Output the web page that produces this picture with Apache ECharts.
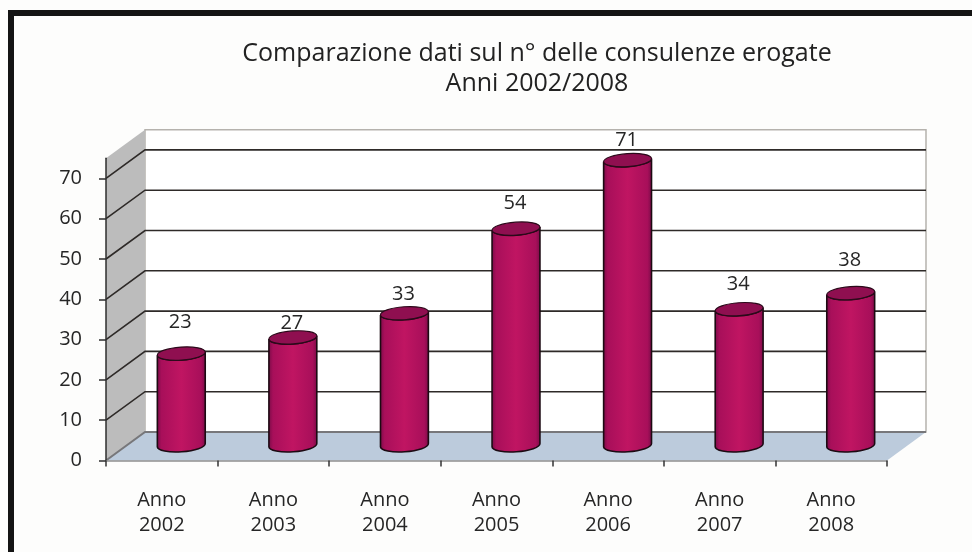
<!DOCTYPE html>
<html>
<head>
<meta charset="utf-8">
<style>html,body{margin:0;padding:0;background:#fdfdfc}#c{width:972px;height:552px}</style>
<script src="https://cdn.jsdelivr.net/npm/echarts@6/dist/echarts.min.js"></script>
</head>
<body>
<div id="c"></div>
<script>
const categories = ['Anno\n2002','Anno\n2003','Anno\n2004','Anno\n2005','Anno\n2006','Anno\n2007','Anno\n2008'];
const values = [23,27,33,54,71,34,38];
const yTicks = [0,10,20,30,40,50,60,70];
const titleText = 'Comparazione dati sul n° delle consulenze erogate\nAnni 2002/2008';

// drawing constants (not data)
const DX = 39, DY = -28.5;           // depth of the 3D box
const RX = 24, RY = 6.5, TILT = 4;   // cylinder ellipse
const labelLift = [31,14,19,25,20,25,33]; // hand placed labels in the original
const FONT = '"Open Sans"';
const TEXT = '#262626';

const chart = echarts.init(document.getElementById('c'), null, {renderer:'canvas'});

function renderWalls(params, api){
  const r = params.coordSys;
  const x0 = r.x, x1 = r.x + r.width, yt = r.y, yb = r.y + r.height;
  return {type:'group', children:[
    {type:'polygon', shape:{points:[[x0+DX,yt+DY],[x1+DX,yt+DY],[x1+DX,yb+DY],[x0+DX,yb+DY]]},
     style:{fill:'#ffffff', stroke:'#b5b2ad', lineWidth:1.5}},
    {type:'polygon', shape:{points:[[x0,yt],[x0+DX,yt+DY],[x0+DX,yb+DY],[x0,yb]]},
     style:{fill:'#bcbcbc', stroke:null}},
    {type:'polygon', shape:{points:[[x0,yb],[x0+DX,yb+DY],[x1+DX,yb+DY],[x1,yb]]},
     style:{fill:'#bccbdc', stroke:null}}
  ]};
}

function renderGrid(params, api){
  const r = params.coordSys;
  const v = api.value(1);
  const y = api.coord([0, v])[1];
  const x0 = r.x, x1 = r.x + r.width;
  const zero = v === 0;
  return {type:'polyline', shape:{points:[[x0,y],[x0+DX,y+DY],[x1+DX,y+DY]]},
    style:{fill:null, stroke: zero ? '#77777a' : '#2e2a28', lineWidth: zero ? 2 : 1.6}};
}

function renderCylinder(params, api){
  const i = api.value(0), v = api.value(1);
  const base = api.coord([i, 0]);
  const top = api.coord([i, v]);
  const cx = base[0] + DX/2;
  const by = base[1] + DY/2 - 1;
  const ty = top[1] + DY/2;
  const c = Math.cos(TILT*Math.PI/180), s = Math.sin(TILT*Math.PI/180);
  const lx = cx - RX*c, rx = cx + RX*c;
  const arc = (sw, x, y) => `A ${RX} ${RY} ${-TILT} 1 ${sw} ${x} ${y}`;
  const body = `M ${lx} ${ty+RX*s} L ${lx} ${by+RX*s} ${arc(0,rx,by-RX*s)} L ${rx} ${ty-RX*s} ${arc(1,lx,ty+RX*s)} Z`;
  const cap  = `M ${lx} ${ty+RX*s} ${arc(1,rx,ty-RX*s)} ${arc(1,lx,ty+RX*s)} Z`;
  return {type:'group', children:[
    {type:'path', shape:{pathData:body}, style:{
      fill:new echarts.graphic.LinearGradient(0,0,1,0,[
        {offset:0,color:'#750b46'},{offset:.1,color:'#a80f5a'},{offset:.5,color:'#c01562'},
        {offset:.9,color:'#a80f5a'},{offset:1,color:'#750b46'}]),
      stroke:'#1c0a12', lineWidth:1.6}},
    {type:'path', shape:{pathData:cap}, style:{fill:'#8f0f50', stroke:'#2a0a1a', lineWidth:1.2}},
    {type:'text', x:cx-1, y:ty-labelLift[params.dataIndex], style:{
      text:String(v), fill:TEXT, font:`20px ${FONT}`, textAlign:'center', textVerticalAlign:'middle'}}
  ]};
}

chart.setOption({
  animation:false,
  backgroundColor:'#fdfdfc',
  title:{
    text:titleText, left:532, top:34, textAlign:'center',
    textStyle:{fontFamily:FONT, fontSize:25, fontWeight:'normal', color:'#222', lineHeight:30}
  },
  grid:{left:106, right:85, top:158.25, bottom:91.5, containLabel:false},
  xAxis:{
    type:'category', data:categories, z:6,
    axisLine:{lineStyle:{color:'#8f8f8f', width:1.5}},
    axisTick:{show:true, length:6, lineStyle:{color:'#333', width:1.5}},
    axisLabel:{fontFamily:FONT, fontSize:20, color:TEXT, lineHeight:25, margin:27, interval:0},
    splitLine:{show:false}
  },
  yAxis:{
    type:'value', min:0, max:75, z:6,
    axisLine:{show:true, lineStyle:{color:'#2e2e2e', width:1.5}},
    axisTick:{show:true, length:7, lineStyle:{color:'#2e2e2e', width:1.5}, customValues:yTicks},
    axisLabel:{fontFamily:FONT, fontSize:20, color:TEXT, margin:24, customValues:yTicks},
    splitLine:{show:false}
  },
  series:[
    {type:'custom', name:'walls', z:1, silent:true, clip:false, renderItem:renderWalls, data:[[0,0]], encode:{x:0,y:1}},
    {type:'custom', name:'grid', z:2, silent:true, clip:false, renderItem:renderGrid,
      data:yTicks.map(t=>[0,t]), encode:{x:0,y:1}},
    {type:'custom', name:'Consulenze', z:3, silent:true, clip:false, renderItem:renderCylinder,
      data:values.map((v,i)=>[i,v]), encode:{x:0,y:1}}
  ],
  graphic:[
    {type:'rect', z:10, silent:true, shape:{x:8,y:10,width:964,height:6}, style:{fill:'#141414'}},
    {type:'rect', z:10, silent:true, shape:{x:8,y:10,width:6,height:542}, style:{fill:'#141414'}}
  ]
});
</script>
</body>
</html>
